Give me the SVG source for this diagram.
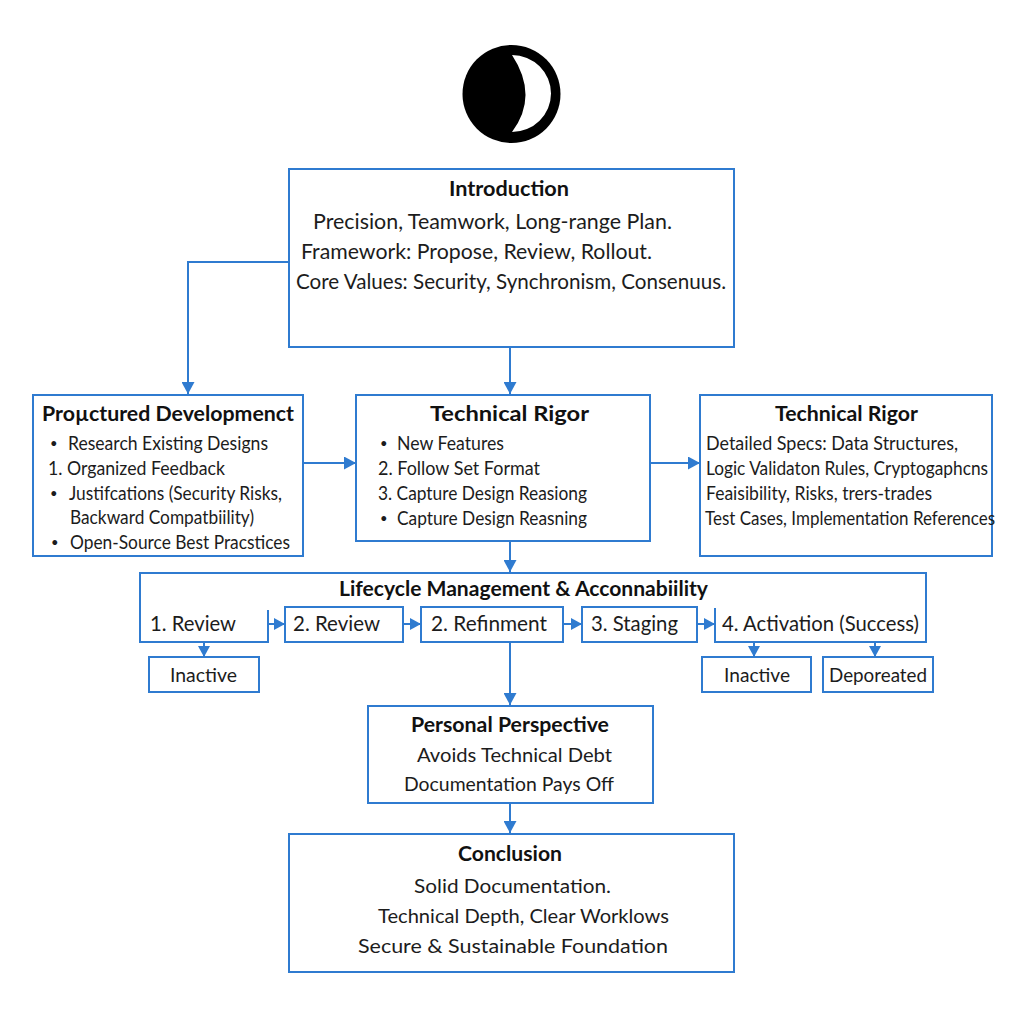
<svg xmlns="http://www.w3.org/2000/svg" width="1024" height="1024" viewBox="0 0 1024 1024">
<style>
.b{fill:#fff;stroke:#2f7bd0;stroke-width:2}
.c{fill:none;stroke:#2f7bd0;stroke-width:2}
text{font-family:"Lato","Liberation Sans",sans-serif;fill:#1c1c1c;font-size:19.5px}
.t{font-weight:700;font-size:21px;fill:#111}
.d{font-size:13px}
.m{font-size:21px}
</style>
<defs>
<marker id="a" markerUnits="userSpaceOnUse" markerWidth="13" markerHeight="13" refX="12" refY="6.5" orient="auto"><path d="M0 0L12 6.5L0 13z" fill="#2f7bd0"/></marker>
<marker id="s" markerUnits="userSpaceOnUse" markerWidth="11" markerHeight="12" refX="11" refY="6" orient="auto"><path d="M0 0L11 6L0 12z" fill="#2f7bd0"/></marker>
</defs>
<rect width="1024" height="1024" fill="#fff"/>
<g id="logo">
<circle cx="511.5" cy="94" r="49" fill="#000"/>
<path d="M512 55A39 38.5 0 0 1 512 132Q539 96 512 55z" fill="#fff"/>
</g>
<g id="connectors">
<path class="c" d="M289 262H188V394" marker-end="url(#a)"/>
<path class="c" d="M510 347V394" marker-end="url(#a)"/>
<path class="c" d="M303 463H356" marker-end="url(#a)"/>
<path class="c" d="M650 463H700" marker-end="url(#a)"/>
<path class="c" d="M510 541V572" marker-end="url(#a)"/>
<path class="c" d="M510 642V705" marker-end="url(#a)"/>
<path class="c" d="M510 803V833" marker-end="url(#a)"/>
<path class="c" d="M268 624H285" marker-end="url(#s)"/>
<path class="c" d="M403 624H421" marker-end="url(#s)"/>
<path class="c" d="M563 624H582" marker-end="url(#s)"/>
<path class="c" d="M697 624H715" marker-end="url(#s)"/>
<path class="c" d="M204 642V657" marker-end="url(#s)"/>
<path class="c" d="M754 642V657" marker-end="url(#s)"/>
<path class="c" d="M875 642V657" marker-end="url(#s)"/>
</g>
<g id="introduction">
<rect class="b" x="289" y="169" width="445" height="178"/>
<text class="t" x="449" y="196" textLength="120" lengthAdjust="spacingAndGlyphs">Introduction</text>
<text class="m" x="313" y="229" textLength="359" lengthAdjust="spacingAndGlyphs">Precision, Teamwork, Long-range Plan.</text>
<text class="m" x="301" y="259" textLength="351" lengthAdjust="spacingAndGlyphs">Framework: Propose, Review, Rollout.</text>
<text class="m" x="296" y="289" textLength="430" lengthAdjust="spacingAndGlyphs">Core Values: Security, Synchronism, Consenuus.</text>
</g>
<g id="structured-development">
<rect class="b" x="33" y="395" width="270" height="161"/>
<text class="t" x="42" y="421" textLength="252" lengthAdjust="spacingAndGlyphs">Proµctured Developmenct</text>
<text class="d" x="50" y="448">•</text>
<text x="68" y="450" textLength="200" lengthAdjust="spacingAndGlyphs">Research Existing Designs</text>
<text x="48" y="475" textLength="177" lengthAdjust="spacingAndGlyphs">1. Organized Feedback</text>
<text class="d" x="50" y="498">•</text>
<text x="69" y="500" textLength="213" lengthAdjust="spacingAndGlyphs">Justifcations (Security Risks,</text>
<text x="70" y="524" textLength="184" lengthAdjust="spacingAndGlyphs">Backward Compatbiility)</text>
<text class="d" x="51" y="547">•</text>
<text x="70" y="549" textLength="220" lengthAdjust="spacingAndGlyphs">Open-Source Best Pracstices</text>
</g>
<g id="technical-rigor-center">
<rect class="b" x="356" y="395" width="294" height="146"/>
<text class="t" x="430" y="421" textLength="159" lengthAdjust="spacingAndGlyphs">Technical Rigor</text>
<text class="d" x="380" y="448">•</text>
<text x="397" y="450" textLength="107" lengthAdjust="spacingAndGlyphs">New Features</text>
<text x="378" y="475" textLength="162" lengthAdjust="spacingAndGlyphs">2. Follow Set Format</text>
<text x="378" y="500" textLength="209" lengthAdjust="spacingAndGlyphs">3. Capture Design Reasiong</text>
<text class="d" x="380" y="523">•</text>
<text x="397" y="525" textLength="190" lengthAdjust="spacingAndGlyphs">Capture Design Reasning</text>
</g>
<g id="technical-rigor-right">
<rect class="b" x="700" y="395" width="292" height="161"/>
<text class="t" x="775" y="421" textLength="143" lengthAdjust="spacingAndGlyphs">Technical Rigor</text>
<text x="706" y="450" textLength="252" lengthAdjust="spacingAndGlyphs">Detailed Specs: Data Structures,</text>
<text x="706" y="475" textLength="282" lengthAdjust="spacingAndGlyphs">Logic Validaton Rules, Cryptogaphcns</text>
<text x="706" y="500" textLength="226" lengthAdjust="spacingAndGlyphs">Feaisibility, Risks, trers-trades</text>
<text x="705" y="525" textLength="290" lengthAdjust="spacingAndGlyphs">Test Cases, Implementation References</text>
</g>
<g id="lifecycle">
<path class="c" d="M268 610V642H140V573H926V642H715V608"/>
<text class="t" x="339" y="596" textLength="369" lengthAdjust="spacingAndGlyphs">Lifecycle Management &amp; Acconnabiility</text>
<text class="m" x="150" y="631" textLength="86" lengthAdjust="spacingAndGlyphs">1. Review</text>
<text class="m" x="722" y="631" textLength="197" lengthAdjust="spacingAndGlyphs">4. Activation (Success)</text>
</g>
<g id="review-2">
<rect class="b" x="285" y="607" width="118" height="35"/>
<text class="m" x="293" y="631" textLength="87" lengthAdjust="spacingAndGlyphs">2. Review</text>
</g>
<g id="refinement">
<rect class="b" x="421" y="607" width="142" height="35"/>
<text class="m" x="431" y="631" textLength="116" lengthAdjust="spacingAndGlyphs">2. Refinment</text>
</g>
<g id="staging">
<rect class="b" x="582" y="607" width="115" height="35"/>
<text class="m" x="591" y="631" textLength="87" lengthAdjust="spacingAndGlyphs">3. Staging</text>
</g>
<g id="inactive-1">
<rect class="b" x="149" y="657" width="110" height="35"/>
<text x="170" y="682" textLength="67" lengthAdjust="spacingAndGlyphs">Inactive</text>
</g>
<g id="inactive-2">
<rect class="b" x="702" y="657" width="109" height="35"/>
<text x="724" y="682" textLength="66" lengthAdjust="spacingAndGlyphs">Inactive</text>
</g>
<g id="deprecated">
<rect class="b" x="823" y="657" width="110" height="35"/>
<text x="829" y="682" textLength="98" lengthAdjust="spacingAndGlyphs">Deporeated</text>
</g>
<g id="personal-perspective">
<rect class="b" x="368" y="706" width="285" height="97"/>
<text class="t" x="411" y="732" textLength="198" lengthAdjust="spacingAndGlyphs">Personal Perspective</text>
<text x="417" y="762" textLength="195" lengthAdjust="spacingAndGlyphs">Avoids Technical Debt</text>
<text x="404" y="791" textLength="210" lengthAdjust="spacingAndGlyphs">Documentation Pays Off</text>
</g>
<g id="conclusion">
<rect class="b" x="289" y="834" width="445" height="138"/>
<text class="t" x="458" y="861" textLength="104" lengthAdjust="spacingAndGlyphs">Conclusion</text>
<text x="414" y="893" textLength="197" lengthAdjust="spacingAndGlyphs">Solid Documentation.</text>
<text x="378" y="923" textLength="291" lengthAdjust="spacingAndGlyphs">Technical Depth, Clear Worklows</text>
<text x="358" y="953" textLength="310" lengthAdjust="spacingAndGlyphs">Secure &amp; Sustainable Foundation</text>
</g>
</svg>
